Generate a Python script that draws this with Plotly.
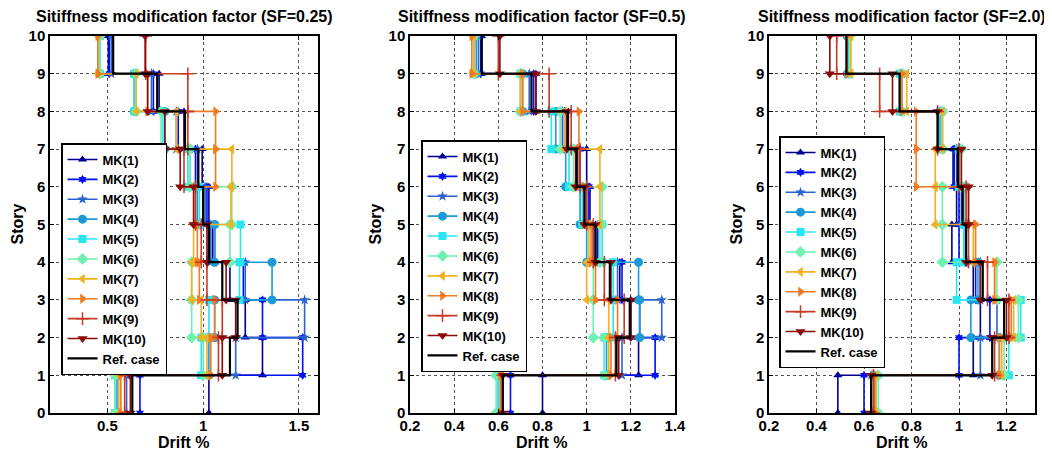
import plotly.graph_objects as go
from plotly.subplots import make_subplots

# Story levels and series names
stories = list(range(0, 11))
names = ["MK(1)", "MK(2)", "MK(3)", "MK(4)", "MK(5)", "MK(6)", "MK(7)", "MK(8)", "MK(9)", "MK(10)"]
titles = ["Sitiffness modification factor (SF=0.25)",
          "Sitiffness modification factor (SF=0.5)",
          "Sitiffness modification factor (SF=2.0)"]

# Inter-story drift (%) for stories 1..10, SF = 0.25
sf025_ref = [0.63, 1.14, 1.18, 1.10, 1.03, 1.00, 0.975, 0.905, 0.76, 0.53]
sf025_mk = [
    [1.03, 1.31, 1.22, 1.14, 1.05, 1.03, 0.995, 0.90, 0.77, 0.505],
    [0.67, 1.52, 1.31, 1.21, 1.06, 1.02, 0.96, 0.87, 0.74, 0.51],
    [0.60, 1.17, 1.53, 1.22, 1.04, 1.01, 0.97, 0.86, 0.73, 0.52],
    [0.55, 1.03, 1.06, 1.36, 1.06, 0.97, 0.93, 0.80, 0.64, 0.46],
    [0.54, 0.99, 1.03, 1.19, 1.195, 0.98, 0.92, 0.79, 0.64, 0.46],
    [0.54, 1.00, 0.94, 0.94, 1.14, 1.15, 0.93, 0.78, 0.65, 0.46],
    [0.56, 1.02, 0.99, 0.94, 0.95, 1.145, 1.15, 0.86, 0.65, 0.45],
    [0.57, 1.04, 1.06, 0.98, 0.97, 0.96, 1.065, 1.065, 0.71, 0.45],
    [0.59, 1.08, 1.10, 1.02, 0.99, 0.96, 0.90, 0.92, 0.92, 0.70],
    [0.62, 1.10, 1.17, 1.12, 1.02, 0.95, 0.88, 0.80, 0.71, 0.697],
]

# SF = 0.5
sf05_ref = [0.62, 1.135, 1.195, 1.105, 1.04, 0.99, 0.955, 0.915, 0.75, 0.525]
sf05_mk = [
    [0.80, 1.235, 1.20, 1.15, 1.04, 1.015, 1.00, 0.917, 0.77, 0.524],
    [0.655, 1.31, 1.24, 1.16, 1.05, 1.01, 0.97, 0.90, 0.76, 0.52],
    [0.61, 1.16, 1.34, 1.14, 1.03, 1.00, 0.96, 0.89, 0.74, 0.51],
    [0.60, 1.09, 1.24, 1.235, 1.00, 0.97, 0.905, 0.86, 0.71, 0.50],
    [0.60, 1.08, 1.12, 1.12, 1.07, 0.98, 0.92, 0.84, 0.70, 0.49],
    [0.59, 1.08, 1.03, 1.03, 1.06, 1.07, 0.94, 0.88, 0.70, 0.49],
    [0.61, 1.10, 1.10, 1.00, 1.01, 1.06, 1.06, 0.90, 0.70, 0.49],
    [0.61, 1.11, 1.14, 1.04, 1.02, 0.99, 0.96, 0.965, 0.71, 0.48],
    [0.62, 1.13, 1.17, 1.08, 1.03, 1.00, 0.97, 0.93, 0.83, 0.60],
    [0.62, 1.145, 1.20, 1.11, 1.04, 0.99, 0.95, 0.91, 0.77, 0.607],
]

# SF = 2.0
sf20_ref = [0.63, 1.14, 1.19, 1.10, 1.03, 1.015, 0.995, 0.91, 0.75, 0.526]
sf20_mk = [
    [0.49, 1.06, 1.09, 1.06, 0.97, 0.99, 0.975, 0.92, 0.76, 0.53],
    [0.60, 1.00, 1.13, 1.07, 1.00, 1.00, 0.98, 0.92, 0.76, 0.53],
    [0.63, 1.09, 1.16, 1.09, 1.02, 1.01, 0.99, 0.92, 0.76, 0.53],
    [0.64, 1.17, 1.05, 1.08, 1.03, 1.02, 1.00, 0.93, 0.76, 0.53],
    [0.65, 1.21, 1.26, 0.99, 1.02, 1.03, 1.00, 0.92, 0.75, 0.535],
    [0.66, 1.19, 1.25, 1.16, 0.93, 0.93, 1.01, 0.93, 0.76, 0.54],
    [0.65, 1.18, 1.23, 1.15, 1.06, 0.90, 0.90, 0.93, 0.78, 0.545],
    [0.645, 1.17, 1.22, 1.15, 1.07, 1.04, 0.82, 0.82, 0.76, 0.53],
    [0.64, 1.15, 1.21, 1.12, 1.04, 1.03, 1.00, 0.91, 0.666, 0.485],
    [0.63, 1.14, 1.20, 1.09, 1.03, 1.04, 1.01, 0.91, 0.72, 0.456],
]

colors = ["#00008f", "#0010f0", "#2a62d0", "#1c9ad8", "#28e6f0",
          "#6ef0b0", "#f0b020", "#f27a22", "#c83a28", "#8c0a0a"]
symbols = ["triangle-up", "hexagram", "star", "circle", "square",
           "diamond", "triangle-left", "triangle-right", "cross-thin", "triangle-down"]
msizes = [8, 7, 8, 9, 8, 9, 9, 9, 9, 9]

panels = [(sf025_mk, sf025_ref), (sf05_mk, sf05_ref), (sf20_mk, sf20_ref)]
font = "Liberation Sans, Arial, sans-serif"


def stairs(drift):
    # vertical segment for each story from floor i-1 to floor i
    xs, ys = [], []
    for i, d in enumerate(drift):
        xs += [d, d]
        ys += [stories[i], stories[i + 1]]
    return xs, ys


fig = make_subplots(rows=1, cols=3)

for p, (mk, ref) in enumerate(panels):
    leg = "legend" if p == 0 else f"legend{p + 1}"
    for k in range(10):
        xs, ys = stairs(mk[k])
        fig.add_trace(go.Scatter(
            x=xs, y=ys, mode="lines+markers", name=f"<b>{names[k]}</b>", legend=leg,
            line=dict(color=colors[k], width=1.6),
            marker=dict(symbol=symbols[k], size=msizes[k], color=colors[k],
                        line=dict(color=colors[k], width=1.5 if k == 8 else 0))),
            row=1, col=p + 1)
    xs, ys = stairs(ref)
    fig.add_trace(go.Scatter(x=xs, y=ys, mode="lines", name="<b>Ref. case</b>", legend=leg,
                             line=dict(color="black", width=2.2)),
                  row=1, col=p + 1)

# pixel layout measured on the 1052 x 450 reference; the page body adds an 8 px margin,
# so the figure is 8 px smaller and every position is shifted by 8 px
OFF = 8
W, H = 1052 - OFF, 450 - OFF
x_px = [(50, 318), (410, 675), (769, 1035)]
y_px = (36, 413)
story_x = [17, 375, 736]
x_domains = [[(a - OFF) / W, (b - OFF) / W] for a, b in x_px]
y_domain = [1 - (y_px[1] - OFF) / H, 1 - (y_px[0] - OFF) / H]
x_ranges = [[0.2, 1.6], [0.2, 1.4], [0.2, 1.32]]
x_ticks = [[0.5, 1, 1.5], [0.2, 0.4, 0.6, 0.8, 1, 1.2, 1.4], [0.2, 0.4, 0.6, 0.8, 1, 1.2]]
x_text = [["0.5", "1", "1.5"], ["0.2", "0.4", "0.6", "0.8", "1", "1.2", "1.4"],
          ["0.2", "0.4", "0.6", "0.8", "1", "1.2"]]
leg_pos = [(61, 143), (421, 140), (779, 136)]

axis_style = dict(showline=True, linecolor="black", linewidth=1.5, mirror="ticks",
                  ticks="inside", ticklen=4, tickcolor="black", automargin=False,
                  showgrid=True, gridcolor="#555555", griddash="dot", gridwidth=1,
                  zeroline=False, tickfont=dict(family=font, size=15, color="black"))

for p in range(3):
    fig.update_xaxes(domain=x_domains[p], range=x_ranges[p], tickvals=x_ticks[p],
                     ticktext=[f"<b>{t}</b>" for t in x_text[p]], ticklabelstandoff=-2,
                     row=1, col=p + 1, **axis_style)
    fig.update_yaxes(domain=y_domain, range=[0, 10], tickvals=stories,
                     ticktext=[f"<b>{s}</b>" for s in stories],
                     row=1, col=p + 1, **axis_style)
    xc = (x_domains[p][0] + x_domains[p][1]) / 2
    fig.add_annotation(text=f"<b>{titles[p]}</b>", xref="paper", yref="paper",
                       x=xc, y=1 - (16 - OFF) / H, xanchor="center", yanchor="middle",
                       showarrow=False, font=dict(family=font, size=16, color="black"))
    fig.add_annotation(text="<b>Drift %</b>", xref="paper", yref="paper",
                       x=xc, y=1 - (442 - OFF) / H, xanchor="center", yanchor="middle",
                       showarrow=False, font=dict(family=font, size=16, color="black"))
    fig.add_annotation(text="<b>Story</b>", xref="paper", yref="paper", textangle=-90,
                       x=(story_x[p] - OFF) / W, y=(y_domain[0] + y_domain[1]) / 2,
                       xanchor="center", yanchor="middle", showarrow=False,
                       font=dict(family=font, size=16, color="black"))

legend_style = dict(bgcolor="white", bordercolor="black", borderwidth=1.5,
                    font=dict(family=font, size=13, color="black"),
                    xanchor="left", yanchor="top", tracegroupgap=0)
lay = {}
for p in range(3):
    key = "legend" if p == 0 else f"legend{p + 1}"
    lay[key] = dict(x=(leg_pos[p][0] - OFF) / W, y=1 - (leg_pos[p][1] - OFF) / H, **legend_style)

fig.update_layout(width=W, height=H, margin=dict(l=0, r=0, t=0, b=0),
                  plot_bgcolor="white", paper_bgcolor="white",
                  font=dict(family=font, size=15, color="black"), **lay)

fig.write_html("out.html")
